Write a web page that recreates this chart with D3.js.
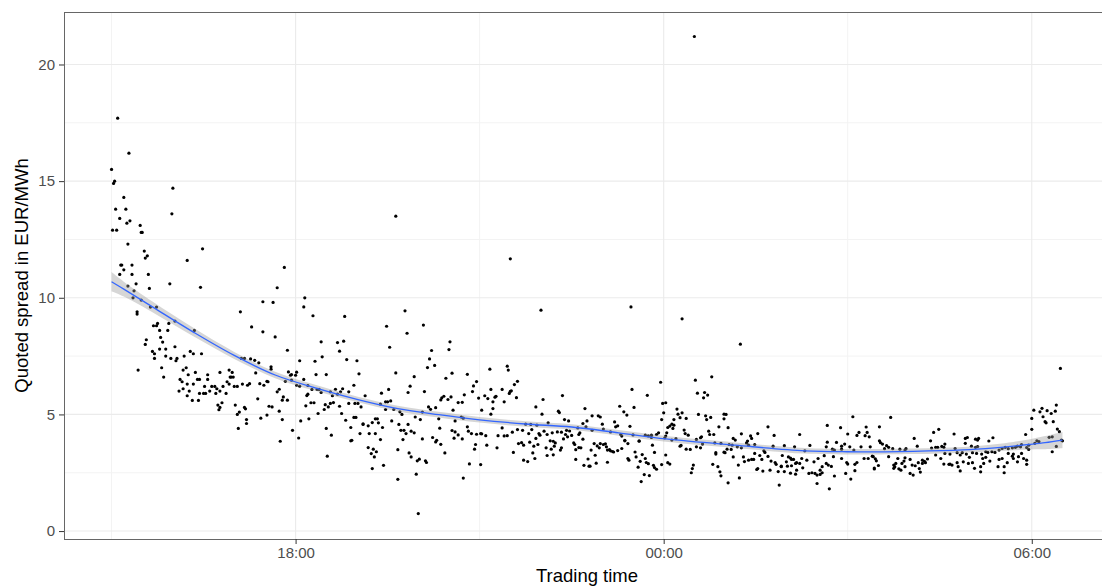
<!DOCTYPE html>
<html>
<head>
<meta charset="utf-8">
<script src="https://cdn.jsdelivr.net/npm/d3@7"></script>
<style>
  body { margin: 0; background: #fff; }
  svg { font-family: "Liberation Sans", Arial, sans-serif; display: block; }
</style>
</head>
<body>
<svg id="chart"></svg>
<script>
// Quoted spread observations: [minutes after 15:00, EUR/MWh]
const spread1500 = [[6,17.7],[17,16.2],[0,15.5],[3,15.0],[2,14.9],[60,14.7],[12,14.3],[4,13.8],[14,13.8],[59,13.6],[8,13.4],[15,13.2],[18,13.3],[1,12.9],[5,12.9],[28,13.1],[30,12.8],[29,12.8],[16,12.3],[32,12.0],[33,11.7],[35,11.8],[89,12.1],[74,11.6],[10,11.4],[9,11.4],[12,11.2],[8,11.0],[20,11.4],[20,11.0],[36,11.0],[57,10.6],[87,10.45],[16,10.5],[24,10.6],[22,10.3],[37,10.4],[21,10.0],[29,9.9],[38,9.6],[44,9.6],[25,9.4],[25,9.3],[126,9.4],[62,9.0],[45,8.9],[44,8.8],[56,8.9],[55,8.6],[47,8.6],[41,8.8],[81,8.6],[48,8.3],[50,8.1],[34,8.2],[33,8.0],[62,7.9],[71,7.5],[77,7.7],[80,7.6],[88,7.6],[53,7.8],[47,7.8],[40,7.7],[42,7.6],[42,7.4],[53,7.5],[58,7.4],[64,7.4],[63,7.3],[127,7.4],[130,7.4],[49,7.0],[73,7.0],[70,6.9],[26,6.9],[51,6.6],[75,6.7],[82,6.8],[84,6.5],[86,6.5],[94,6.7],[94,6.5],[106,6.8],[115,6.9],[118,6.8],[116,6.6],[119,6.6],[67,6.5],[69,6.4],[74,6.3],[80,6.3],[66,6.0],[70,6.1],[74,5.8],[76,6.0],[79,5.6],[85,5.6],[86,5.9],[90,5.9],[92,5.9],[91,6.2],[96,6.0],[98,6.2],[101,6.2],[103,6.1],[102,5.9],[106,6.0],[109,6.2],[112,5.9],[113,6.4],[115,6.3],[117,6.6],[120,6.2],[123,6.2],[128,6.3],[104,5.4],[108,5.5],[106,5.3],[105,5.2],[121,5.4],[125,5.1],[123,5.0],[130,5.3],[124,4.4]];

const spread1710 = [[169,11.3],[162,10.43],[148,9.83],[158,9.8],[189,10.0],[188,9.61],[197,9.23],[228,9.2],[137,8.75],[148,8.54],[160,8.32],[205,8.11],[221,8.08],[227,8.14],[223,7.71],[172,7.75],[206,7.47],[136,7.38],[140,7.32],[144,7.21],[184,7.3],[199,7.28],[230,7.35],[240,7.3],[156,7.04],[156,6.94],[173,6.82],[176,6.71],[180,6.68],[181,6.81],[175,6.68],[200,6.71],[210,6.71],[242,6.74],[141,6.78],[135,6.32],[133,6.25],[145,6.32],[149,6.25],[152,6.42],[153,6.4],[170,6.42],[176,6.47],[188,6.5],[181,6.25],[184,6.21],[192,6.24],[237,6.25],[143,5.67],[162,5.97],[164,6.08],[168,5.75],[167,5.61],[172,5.61],[192,5.87],[191,5.81],[196,6.07],[201,6.07],[203,6.07],[205,5.94],[214,5.97],[219,6.08],[216,5.8],[221,5.87],[224,5.97],[226,6.1],[232,5.97],[190,5.37],[195,5.5],[198,5.5],[209,5.42],[214,5.47],[212,5.32],[217,5.51],[223,5.35],[208,5.21],[202,5.04],[232,5.47],[238,5.47],[241,5.47],[244,5.32],[248,5.8],[264,5.91],[263,5.44],[131,5.24],[132,4.78],[132,4.61],[154,5.35],[157,5.32],[152,4.97],[146,4.84],[164,5.14],[167,4.78],[185,4.72],[193,4.81],[225,5.04],[229,4.75],[234,4.44],[237,4.87],[239,4.87],[177,4.32],[183,3.99],[165,3.85],[210,4.4],[215,4.11],[234,3.87],[235,3.89],[246,4.6],[246,4.57],[251,4.51],[255,4.65],[258,4.81],[260,4.81],[265,4.44],[261,4.64],[243,4.18],[252,4.18],[258,4.18],[263,3.92],[211,3.21],[251,3.58],[256,3.51],[254,3.32],[259,3.4],[257,3.18],[255,2.68],[266,2.82]];

const spread1930 = [[278,13.5],[390,11.67],[287,9.44],[305,8.83],[269,8.78],[289,8.48],[272,7.88],[313,7.74],[330,7.78],[331,8.11],[311,7.38],[309,7.01],[316,7.1],[278,6.78],[296,6.62],[292,6.21],[290,5.94],[306,5.98],[327,6.55],[333,6.77],[348,6.72],[370,6.94],[387,7.07],[388,6.9],[397,6.42],[394,6.28],[391,6.01],[389,5.9],[396,5.72],[357,6.41],[354,6.22],[353,5.98],[345,5.84],[339,5.51],[343,5.52],[334,5.18],[332,5.75],[329,5.64],[325,5.78],[322,5.62],[323,5.71],[359,5.7],[362,5.18],[365,5.8],[368,5.68],[371,6.07],[373,5.54],[375,5.74],[376,5.78],[382,6.07],[384,5.54],[390,5.99],[373,5.25],[371,5.01],[271,6.07],[268,5.54],[270,5.54],[273,5.58],[268,5.21],[276,5.21],[282,5.11],[284,5.0],[274,4.72],[281,4.57],[283,4.32],[286,4.32],[288,4.18],[285,3.92],[293,4.28],[296,4.21],[290,4.57],[280,3.49],[291,3.35],[293,3.18],[299,3.01],[301,3.08],[307,3.01],[308,2.94],[297,4.89],[302,4.78],[304,5.1],[304,3.95],[310,5.32],[312,5.22],[317,5.29],[320,4.81],[321,4.41],[314,4.01],[317,3.82],[318,3.89],[322,3.72],[326,3.35],[336,4.72],[336,4.25],[333,4.31],[339,4.12],[335,3.98],[343,3.95],[342,4.89],[344,4.84],[348,4.47],[349,4.28],[352,4.18],[357,4.15],[356,3.71],[355,3.51],[362,4.17],[361,4.18],[366,4.09],[350,2.88],[361,2.85],[344,2.27],[378,4.09],[382,4.42],[384,4.08],[387,4.09],[392,4.24],[397,4.35],[402,4.32],[401,3.79],[403,3.68],[398,3.75],[393,3.37],[377,3.57],[367,3.68],[403,3.04],[280,2.22],[298,2.44],[300,0.75]];

const spread2145 = [[420,9.47],[508,9.61],[509,6.07],[524,5.82],[537,6.38],[422,5.64],[441,5.81],[415,5.32],[421,5.01],[437,5.14],[438,5.08],[443,4.78],[447,4.72],[463,5.25],[470,4.94],[476,4.94],[478,4.89],[480,4.58],[492,4.68],[497,5.35],[501,5.11],[504,4.97],[511,5.3],[507,4.49],[539,5.47],[540,5.07],[538,4.78],[405,4.58],[410,4.57],[416,4.54],[427,4.64],[408,4.18],[411,4.35],[418,4.18],[419,4.11],[423,4.28],[426,4.14],[431,4.21],[436,4.25],[440,4.24],[444,4.14],[445,4.32],[448,4.29],[446,4.04],[450,4.1],[456,4.42],[457,4.14],[458,4.21],[464,4.47],[465,4.72],[461,4.61],[470,4.32],[481,4.37],[488,4.25],[493,4.47],[495,4.51],[498,4.14],[499,4.07],[502,3.87],[510,4.12],[516,3.87],[522,4.11],[525,4.08],[528,4.11],[528,4.01],[533,4.14],[535,4.21],[541,3.99],[409,3.81],[415,3.97],[413,3.64],[417,3.71],[429,3.87],[432,3.85],[434,3.78],[433,3.64],[425,3.57],[430,3.51],[426,3.24],[432,3.27],[412,3.35],[407,2.98],[414,3.11],[439,3.47],[440,3.57],[442,3.95],[453,3.71],[452,3.78],[454,3.49],[457,3.58],[459,3.57],[461,3.94],[469,3.47],[466,3.09],[467,2.78],[468,2.78],[462,2.82],[454,3.07],[472,3.75],[473,3.25],[475,3.65],[474,2.91],[477,3.57],[478,3.75],[481,3.71],[483,3.74],[484,3.61],[485,3.47],[487,3.49],[488,3.44],[490,3.41],[491,3.39],[495,3.45],[499,3.54],[485,2.95],[505,3.11],[506,3.04],[505,3.75],[502,3.89],[512,3.39],[513,3.18],[516,3.85],[517,2.99],[515,2.74],[519,3.28],[522,3.11],[521,2.42],[526,2.38],[523,2.94],[518,2.12],[525,2.89],[529,3.68],[531,3.37],[531,2.72],[530,2.82],[533,2.65],[538,2.85]];

const spread0000 = [[570,21.2],[558,9.1],[615,8.01],[571,6.47],[587,6.61],[573,5.91],[580,5.94],[583,5.83],[579,5.71],[542,5.5],[553,5.23],[558,5.07],[554,5.01],[556,4.86],[562,4.83],[550,4.78],[548,4.58],[546,4.5],[544,4.44],[550,4.54],[549,4.4],[543,4.21],[574,5.0],[581,4.94],[582,4.78],[586,4.87],[599,5.01],[601,5.0],[599,4.81],[594,4.47],[603,4.43],[584,4.28],[585,4.14],[589,4.14],[576,4.0],[577,4.04],[572,3.93],[560,4.33],[561,4.18],[564,4.11],[542,4.07],[548,3.9],[552,3.96],[556,3.64],[557,3.67],[562,3.51],[566,3.5],[572,3.61],[576,3.57],[578,3.73],[590,3.78],[591,3.36],[591,3.3],[599,3.38],[600,3.36],[602,3.51],[596,3.76],[604,3.71],[608,3.97],[610,3.9],[607,3.68],[616,4.17],[621,3.78],[622,3.86],[623,3.68],[625,4.08],[626,3.97],[632,4.18],[629,3.71],[616,3.57],[612,3.61],[606,3.5],[647,3.64],[642,4.47],[648,4.1],[673,4.14],[658,3.66],[656,3.24],[668,3.61],[542,3.26],[544,2.93],[546,2.87],[567,2.5],[569,2.83],[568,2.68],[588,2.86],[593,2.76],[595,2.54],[596,2.37],[603,2.07],[614,2.28],[618,3.18],[619,2.98],[613,2.83],[608,3.18],[623,3.04],[626,3.07],[628,3.07],[629,3.33],[634,3.24],[636,3.07],[638,3.44],[639,3.37],[642,3.2],[631,2.64],[632,2.68],[637,2.57],[645,3.0],[644,2.61],[649,2.94],[650,2.86],[655,2.78],[658,2.55],[652,2.55],[653,1.97],[655,2.76],[660,2.97],[661,2.78],[662,3.18],[664,3.13],[665,3.07],[667,3.07],[665,2.8],[669,2.9],[670,2.93],[673,2.9],[675,3.11],[676,2.71],[669,2.44],[664,2.48],[670,2.61]];

const spread0220 = [[725,4.9],[762,4.87],[700,4.53],[713,4.43],[751,4.47],[809,4.36],[804,4.23],[683,3.67],[700,3.81],[709,3.8],[714,3.64],[717,3.73],[720,4.16],[722,3.61],[729,4.1],[731,4.23],[738,4.46],[739,4.23],[741,4.04],[737,4.09],[742,3.61],[733,3.61],[726,3.47],[751,3.87],[752,3.79],[754,3.73],[756,3.53],[758,3.66],[760,3.59],[764,3.53],[771,3.51],[776,3.47],[777,3.53],[785,3.97],[788,3.64],[801,3.87],[802,3.56],[806,3.59],[808,3.59],[812,3.63],[814,3.59],[705,3.51],[707,3.47],[714,3.51],[699,3.61],[697,3.23],[678,3.44],[680,3.04],[687,2.97],[691,3.11],[695,2.76],[693,2.61],[701,2.83],[704,2.77],[706,3.19],[699,2.9],[714,3.11],[720,2.87],[719,2.94],[727,2.86],[729,2.94],[736,3.11],[740,3.11],[744,3.21],[745,3.19],[747,3.1],[748,3.01],[746,2.66],[750,2.81],[760,3.19],[766,2.76],[765,2.83],[767,2.9],[769,3.11],[775,3.0],[776,3.14],[770,2.67],[773,2.9],[776,2.76],[781,3.07],[783,2.83],[786,2.8],[789,2.93],[793,3.04],[793,2.9],[795,2.99],[796,2.93],[798,3.09],[790,2.68],[806,3.26],[811,3.11],[814,2.87],[682,2.47],[685,2.5],[688,2.47],[690,2.4],[693,2.43],[695,2.5],[690,2.04],[707,2.36],[702,1.81],[718,2.47],[723,2.23],[727,2.59],[746,2.7],[765,2.69],[772,2.61],[781,2.47],[784,2.4],[791,2.53]];

const spread0435 = [[928,6.97],[902,5.18],[910,5.26],[908,5.11],[915,5.16],[919,5.04],[924,5.4],[923,5.14],[911,4.9],[913,4.69],[914,4.64],[921,4.69],[900,4.83],[900,4.36],[894,4.14],[925,4.37],[927,4.26],[929,3.9],[920,4.04],[917,4.02],[905,3.87],[907,3.83],[903,3.76],[897,3.68],[895,3.58],[920,3.4],[930,3.87],[924,3.63],[824,4.16],[835,3.97],[837,4.01],[845,3.94],[847,3.9],[848,3.97],[858,3.86],[862,4.0],[835,3.76],[841,3.64],[845,3.59],[847,3.62],[825,3.54],[815,3.73],[815,3.33],[820,3.3],[827,3.36],[830,3.26],[832,3.36],[836,3.3],[842,3.36],[846,3.33],[851,3.3],[855,3.4],[857,3.37],[861,3.4],[864,3.37],[868,3.47],[871,3.54],[874,3.59],[877,3.53],[881,3.57],[884,3.59],[886,3.64],[889,3.61],[890,3.71],[877,3.33],[882,3.3],[890,3.33],[897,3.5],[819,2.86],[820,2.87],[822,2.83],[827,2.93],[828,2.76],[830,2.58],[833,2.97],[838,2.9],[839,3.16],[842,2.93],[844,2.69],[850,2.76],[850,2.54],[853,2.9],[852,3.11],[855,3.16],[859,3.0],[868,3.07],[867,2.76],[871,3.11],[873,2.76],[876,2.93],[881,3.21],[882,3.11],[886,2.97],[887,3.19],[892,3.11],[895,2.86],[895,3.04],[873,2.5]];

// Smoothed fit (loess), with half width of the confidence band
const fitMinutes = [0, 12, 40, 80, 120, 160, 200, 240, 280, 320, 360, 405, 450, 496, 542, 610, 678, 719, 784, 833, 864, 882, 897, 913, 930];
const fitValues  = [10.69, 10.37, 9.61, 8.53, 7.53, 6.69, 6.13, 5.65, 5.25, 4.99, 4.77, 4.59, 4.46, 4.21, 3.95, 3.68, 3.44, 3.40, 3.42, 3.48, 3.57, 3.64, 3.71, 3.79, 3.90];
const fitBand    = [0.41, 0.32, 0.23, 0.18, 0.15, 0.14, 0.13, 0.12, 0.12, 0.12, 0.12, 0.12, 0.12, 0.12, 0.12, 0.12, 0.12, 0.12, 0.12, 0.12, 0.15, 0.18, 0.21, 0.28, 0.35];

// Axis ticks
const yTicks = [0, 5, 10, 15, 20];
const yMinor = [2.5, 7.5, 12.5, 17.5];
const xTickMinutes = [180, 540, 900];   // 18:00, 00:00, 06:00
const xMinorMinutes = [0, 360, 720];    // 15:00, 21:00, 03:00

const start = new Date(2019, 0, 1, 15, 0);
const toTime = m => new Date(start.getTime() + m * 60000);

const points = [].concat(spread1500, spread1710, spread1930, spread2145, spread0000, spread0220, spread0435)
    .map(([m, v]) => ({ t: toTime(m), v: v }));
const fit = fitMinutes.map((m, i) => ({ t: toTime(m), v: fitValues[i], se: fitBand[i] }));

// SVG dimensions
const svgWidth = 1102;
const svgHeight = 586;
const panel = { left: 64, top: 12, right: 1110, bottom: 539 };

const svg = d3.select('#chart')
    .attr('width', svgWidth)
    .attr('height', svgHeight);

// Scales
const xScale = d3.scaleTime()
    .domain([toTime(-46.5), toTime(976.5)])
    .range([panel.left, panel.right]);

const yScale = d3.scaleLinear()
    .domain([-0.34, 22.25])
    .range([panel.bottom, panel.top]);

// Grid lines
const grid = svg.append('g');
grid.selectAll('.ymin').data(yMinor).enter().append('line')
    .attr('x1', panel.left).attr('x2', panel.right)
    .attr('y1', d => yScale(d)).attr('y2', d => yScale(d))
    .attr('stroke', '#f3f3f3').attr('stroke-width', 1);
grid.selectAll('.xmin').data(xMinorMinutes).enter().append('line')
    .attr('x1', d => xScale(toTime(d))).attr('x2', d => xScale(toTime(d)))
    .attr('y1', panel.top).attr('y2', panel.bottom)
    .attr('stroke', '#f3f3f3').attr('stroke-width', 1);
grid.selectAll('.ymaj').data(yTicks).enter().append('line')
    .attr('x1', panel.left).attr('x2', panel.right)
    .attr('y1', d => yScale(d)).attr('y2', d => yScale(d))
    .attr('stroke', '#ebebeb').attr('stroke-width', 1.1);
grid.selectAll('.xmaj').data(xTickMinutes).enter().append('line')
    .attr('x1', d => xScale(toTime(d))).attr('x2', d => xScale(toTime(d)))
    .attr('y1', panel.top).attr('y2', panel.bottom)
    .attr('stroke', '#ebebeb').attr('stroke-width', 1.1);

// Points
svg.append('g')
    .selectAll('circle')
    .data(points)
    .enter()
    .append('circle')
    .attr('cx', d => xScale(d.t))
    .attr('cy', d => yScale(d.v))
    .attr('r', 1.6)
    .attr('fill', '#000');

// Confidence band and smooth line
svg.append('path')
    .datum(fit)
    .attr('fill', '#999999')
    .attr('fill-opacity', 0.4)
    .attr('d', d3.area()
        .x(d => xScale(d.t))
        .y0(d => yScale(d.v - d.se))
        .y1(d => yScale(d.v + d.se))
        .curve(d3.curveCatmullRom));

svg.append('path')
    .datum(fit)
    .attr('fill', 'none')
    .attr('stroke', '#3366ff')
    .attr('stroke-width', 1.3)
    .attr('d', d3.line()
        .x(d => xScale(d.t))
        .y(d => yScale(d.v))
        .curve(d3.curveCatmullRom));

// Panel border
svg.append('rect')
    .attr('x', panel.left + 0.5)
    .attr('y', panel.top + 0.5)
    .attr('width', panel.right - panel.left)
    .attr('height', panel.bottom - panel.top)
    .attr('fill', 'none')
    .attr('stroke', '#666')
    .attr('stroke-width', 1);

// Axes
const xAxis = svg.append('g')
    .attr('transform', `translate(0, ${panel.bottom})`)
    .call(d3.axisBottom(xScale)
        .tickValues(xTickMinutes.map(toTime))
        .tickFormat(d3.timeFormat('%H:%M'))
        .tickSize(5)
        .tickPadding(3));

const yAxis = svg.append('g')
    .attr('transform', `translate(${panel.left}, 0)`)
    .call(d3.axisLeft(yScale)
        .tickValues(yTicks)
        .tickSize(5)
        .tickPadding(4));

[xAxis, yAxis].forEach(ax => {
    ax.select('.domain').remove();
    ax.selectAll('.tick line').attr('stroke', '#333');
    ax.selectAll('.tick text')
        .attr('fill', '#4d4d4d')
        .style('font-size', '15px')
        .style('font-family', '"Liberation Sans", Arial, sans-serif');
});

// Axis titles
svg.append('text')
    .attr('x', (panel.left + panel.right) / 2)
    .attr('y', 582)
    .attr('text-anchor', 'middle')
    .style('font-size', '18.5px')
    .text('Trading time');

svg.append('text')
    .attr('transform', `translate(28, ${(panel.top + panel.bottom) / 2}) rotate(-90)`)
    .attr('text-anchor', 'middle')
    .style('font-size', '18.5px')
    .text('Quoted spread in EUR/MWh');
</script>
</body>
</html>
